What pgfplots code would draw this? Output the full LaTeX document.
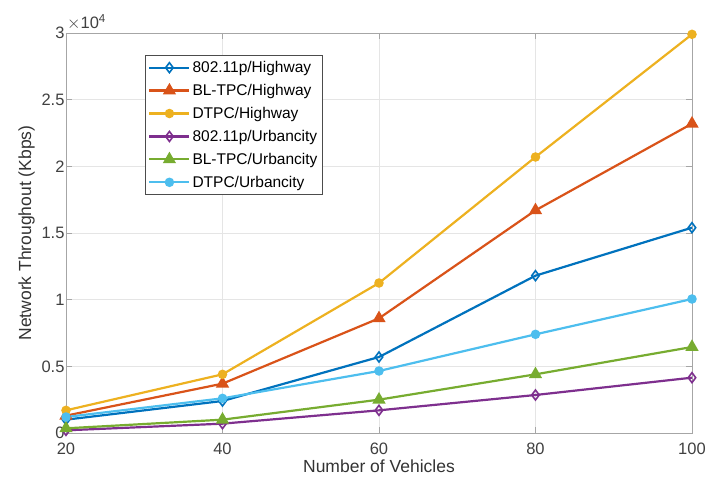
\documentclass[border=0pt]{standalone}
\usepackage{pgfplots}
\pgfplotsset{compat=1.18}
\usepackage{fontspec}
\setmainfont{Liberation Sans}
\definecolor{mB}{rgb}{0,0.447,0.741}
\definecolor{mR}{rgb}{0.85,0.325,0.098}
\definecolor{mY}{rgb}{0.929,0.694,0.125}
\definecolor{mP}{rgb}{0.494,0.184,0.556}
\definecolor{mG}{rgb}{0.466,0.674,0.188}
\definecolor{mC}{rgb}{0.301,0.745,0.933}
\begin{document}
\begin{tikzpicture}
\useasboundingbox (-66pt,-54pt) rectangle (640pt,433pt);
\begin{axis}[
  at={(0pt,0pt)}, anchor=south west,
  scale only axis, width=626pt, height=400pt,
  xmin=20, xmax=100, ymin=0, ymax=3,
  xtick={20,40,60,80,100},
  ytick={0,0.5,1,1.5,2,2.5,3},
  yticklabels={0,0.5,1,1.5,2,2.5,3},
  /pgf/number format/assume math mode=true,
  tick label style={font=\fontsize{16.5}{18}\selectfont, text=black!75},
  label style={font=\fontsize{17.5}{20}\selectfont, text=black!80},
  xlabel={Number of Vehicles},
  ylabel={Network Throughout (Kbps)},
  xlabel style={yshift=1pt},
  ylabel style={yshift=0pt},
  xticklabel style={yshift=-6pt},
  yticklabel style={xshift=2pt},
  grid=major, major grid style={gray!20, line width=0.6pt},
  axis line style={gray!70, line width=0.8pt},
  tick style={gray!70, line width=0.8pt},
  tick align=inside, major tick length=6pt,
  xtick pos=both, ytick pos=both,
  every axis plot/.append style={line width=2.2pt},
  legend style={at={(axis cs:30.1,2.835)}, anchor=north west,
    font=\fontsize{15.5}{18}\selectfont, draw=black!70, line width=0.6pt,
    row sep=6.2pt, inner xsep=3pt, inner ysep=4pt, cells={anchor=west}},
  legend cell align=left,
  legend image code/.code={
    \draw[mark repeat=2,mark phase=2] plot coordinates {(0pt,0pt) (20pt,0pt) (40pt,0pt)};
  },
  clip=false,
]
\addplot[mB, mark=diamond, mark size=5pt, mark options={solid, line width=1.6pt}] coordinates {(20,0.10) (40,0.24) (60,0.57) (80,1.18) (100,1.54)};
\addplot[mR, mark=triangle*, mark size=5.5pt, mark options={solid}] coordinates {(20,0.13) (40,0.37) (60,0.86) (80,1.67) (100,2.32)};
\addplot[mY, mark=*, mark size=3.6pt] coordinates {(20,0.17) (40,0.44) (60,1.125) (80,2.07) (100,2.99)};
\addplot[mP, mark=diamond, mark size=5pt, mark options={solid, line width=1.6pt}] coordinates {(20,0.02) (40,0.07) (60,0.17) (80,0.285) (100,0.415)};
\addplot[mG, mark=triangle*, mark size=5.5pt] coordinates {(20,0.035) (40,0.10) (60,0.25) (80,0.44) (100,0.645)};
\addplot[mC, mark=*, mark size=3.6pt] coordinates {(20,0.12) (40,0.26) (60,0.465) (80,0.74) (100,1.005)};
\legend{802.11p/Highway, BL-TPC/Highway, DTPC/Highway, 802.11p/Urbancity, BL-TPC/Urbancity, DTPC/Urbancity}
\node[anchor=south west, font=\fontsize{16.5}{18}\selectfont, text=black!75, inner sep=0pt] at ([xshift=1pt,yshift=3pt]rel axis cs:0,1) {$\times$10\textsuperscript{4}};
\end{axis}
\end{tikzpicture}
\end{document}
